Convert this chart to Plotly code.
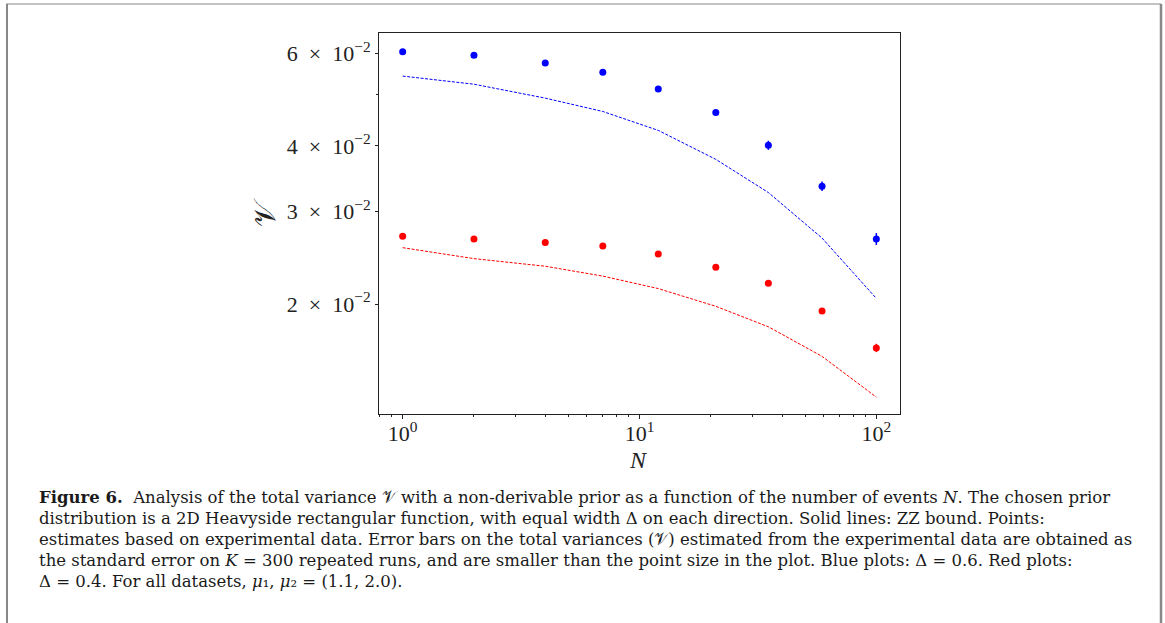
import plotly.graph_objects as go

# ---- data ----
N = [1, 2, 4, 7, 12, 21, 35, 59, 100]

blue_points = [0.0604, 0.0595, 0.0575, 0.0552, 0.0513, 0.0463, 0.0401, 0.0335, 0.0266]
blue_err = [0.0002, 0.0002, 0.0002, 0.0003, 0.0003, 0.0004, 0.0008, 0.0007, 0.0007]
blue_bound = [0.0543, 0.0524, 0.0493, 0.0465, 0.0428, 0.0377, 0.0326, 0.0267, 0.0205]

red_points = [0.0269, 0.0266, 0.0262, 0.0258, 0.0249, 0.0235, 0.0219, 0.0194, 0.0165]
red_err = [0.0001, 0.0001, 0.0001, 0.0001, 0.0001, 0.0001, 0.0002, 0.0002, 0.0003]
red_bound = [0.0256, 0.0244, 0.0236, 0.0226, 0.0214, 0.0198, 0.0181, 0.0159, 0.0133]

x_tickvals = [1, 10, 100]
x_ticktext = ["10<sup>0</sup>", "10<sup>1</sup>", "10<sup>2</sup>"]
x_minor = [0.8, 0.9, 2, 3, 4, 5, 6, 7, 8, 9, 20, 30, 40, 50, 60, 70, 80, 90]
y_tickvals = [0.02, 0.03, 0.04, 0.06]
y_ticktext = ["2\u2002×\u200210<sup>−2</sup>", "3\u2002×\u200210<sup>−2</sup>",
              "4\u2002×\u200210<sup>−2</sup>", "6\u2002×\u200210<sup>−2</sup>"]
y_minor = [0.05]

caption_lines = [
    "<b>Figure 6.</b>  Analysis of the total variance 𝒱 with a non-derivable prior as a function of the number of events <i>N</i>. The chosen prior",
    "distribution is a 2D Heavyside rectangular function, with equal width Δ on each direction. Solid lines: ZZ bound. Points:",
    "estimates based on experimental data. Error bars on the total variances (𝒱) estimated from the experimental data are obtained as",
    "the standard error on <i>K</i> = 300 repeated runs, and are smaller than the point size in the plot. Blue plots: Δ = 0.6. Red plots:",
    "Δ = 0.4. For all datasets, <i>μ</i>\u2081, <i>μ</i>\u2082 = (1.1, 2.0).",
]

W, H = 1165, 623
L, R, T, B = 379, 900, 33, 414


def px(xp):
    return (xp - L) / (R - L)


def py(yp):
    return (B - yp) / (B - T)


SERIF = "Liberation Serif, DejaVu Serif, serif"
CAPTION_FONT = "DejaVu Serif, Liberation Serif, serif"

fig = go.Figure()
for pts, err, bnd, col in [(blue_points, blue_err, blue_bound, "#0000ff"),
                            (red_points, red_err, red_bound, "#ff0000")]:
    fig.add_trace(go.Scatter(x=N, y=bnd, mode="lines",
                             line=dict(color=col, width=1, dash="3px,1.5px"),
                             showlegend=False))
    fig.add_trace(go.Scatter(x=N, y=pts, mode="markers",
                             marker=dict(color=col, size=7),
                             error_y=dict(type="data", array=err, color=col,
                                          thickness=1.5, width=0),
                             showlegend=False))

fig.update_xaxes(type="log", range=[-0.1, 2.1],
                 tickmode="array", tickvals=x_tickvals, ticktext=x_ticktext,
                 ticks="outside", ticklen=4, tickwidth=1, tickcolor="#222",
                 ticklabelstandoff=-4,
                 minor=dict(tickmode="array", tickvals=x_minor, ticks="outside",
                            ticklen=2, tickwidth=1, tickcolor="#222", showgrid=False),
                 showline=True, linecolor="#222", linewidth=1, mirror=True,
                 showgrid=False, zeroline=False,
                 tickfont=dict(family=SERIF, size=22, color="#222"))
fig.update_yaxes(type="log", range=[-1.9083, -1.1832],
                 tickmode="array", tickvals=y_tickvals, ticktext=y_ticktext,
                 ticks="outside", ticklen=3, tickwidth=1, tickcolor="#222",
                 minor=dict(tickmode="array", tickvals=y_minor, ticks="outside",
                            ticklen=2, tickwidth=1, tickcolor="#222", showgrid=False),
                 showline=True, linecolor="#222", linewidth=1, mirror=True,
                 showgrid=False, zeroline=False,
                 tickfont=dict(family=SERIF, size=22, color="#222"))

ann = []
ann.append(dict(x=px(638), y=py(460), xref="paper", yref="paper", text="<i>N</i>",
                showarrow=False, font=dict(family=SERIF, size=24, color="#222"),
                xanchor="center", yanchor="middle"))
ann.append(dict(x=px(264), y=py(213), xref="paper", yref="paper", text="𝒱",
                showarrow=False, textangle=-90,
                font=dict(family=SERIF, size=30, color="#222"),
                xanchor="center", yanchor="middle"))
for i, line in enumerate(caption_lines):
    ann.append(dict(x=px(37), y=py(497 + i * 21.2), xref="paper", yref="paper",
                    text=line, showarrow=False, align="left",
                    font=dict(family=CAPTION_FONT, size=16.5, color="#1a1a1a"),
                    xanchor="left", yanchor="middle"))

shapes = [
    dict(type="line", xref="paper", yref="paper", x0=px(6), x1=px(1161), y0=py(4), y1=py(4),
         line=dict(color="#888888", width=1)),
    dict(type="line", xref="paper", yref="paper", x0=px(7), x1=px(7), y0=py(4), y1=py(623),
         line=dict(color="#888888", width=2)),
    dict(type="line", xref="paper", yref="paper", x0=px(1161), x1=px(1161), y0=py(4), y1=py(623),
         line=dict(color="#888888", width=2.5)),
]

fig.update_layout(width=W, height=H, margin=dict(l=L, r=W - R, t=T, b=H - B),
                  plot_bgcolor="white", paper_bgcolor="white",
                  annotations=ann, shapes=shapes, showlegend=False)

fig.write_html("out.html", config={"displayModeBar": False},
               post_script="document.body.style.margin='0px';document.body.style.overflow='hidden';")
